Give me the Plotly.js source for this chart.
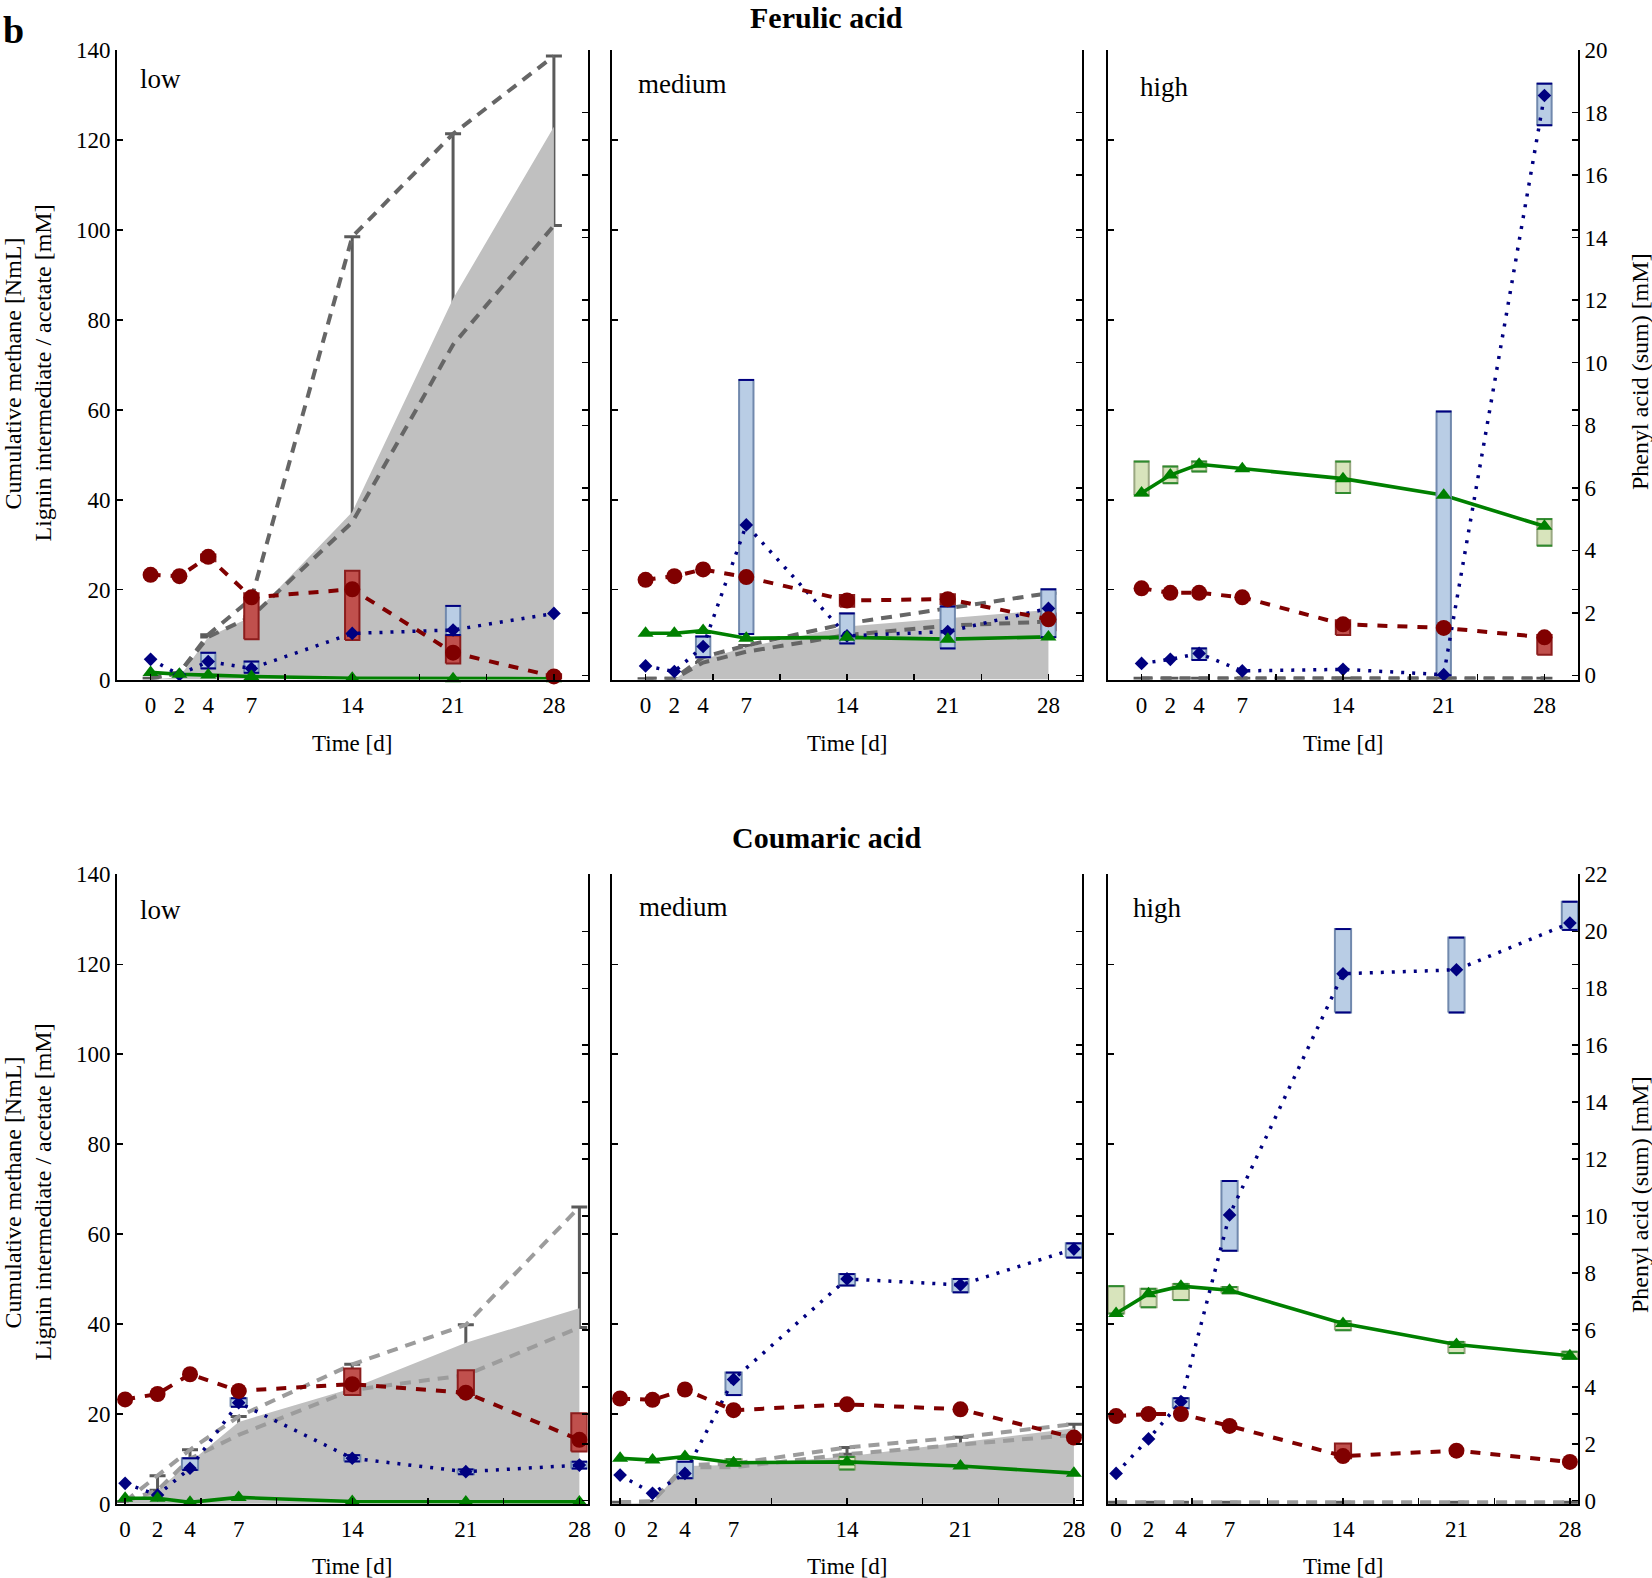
<!DOCTYPE html>
<html><head><meta charset="utf-8">
<script src="https://cdn.plot.ly/plotly-3.0.1.min.js"></script>
<style>html,body{margin:0;padding:0;background:#fff}#chart{width:1652px;height:1578px}</style>
</head><body><div id="chart"></div>
<script>
// ---------------- data ----------------
const days = [0, 2, 4, 7, 14, 21, 28];
const dayLabels = ['0', '2', '4', '7', '14', '21', '28'];
const levels = ['low', 'medium', 'high'];
const substrates = ['Ferulic acid', 'Coumaric acid'];
const noBox = [null, null, null, null, null, null, null];

// Ferulic acid - low
const faLowMethane    = [0, 0.5, 9.5, 14, 37.3, 84.7, 123];
const faLowMethaneMax = [0.3, 1.5, 10, 18, 98.5, 121.4, 138.7];
const faLowMethaneMin = [0.3, 1.5, 9.5, 14, 35, 74.5, 101];
const faLowAcetate    = [23.3, 23.0, 27.3, 18.3, 20.1, 6.0, 0.7];
const faLowAcetateMin = [null, null, 26.3, 9.0, 8.8, 3.6, 0.3];
const faLowAcetateMax = [null, null, 27.8, 19.2, 24.2, 9.8, 1.2];
const faLowLignin     = [1.6, 1.2, 1.0, 0.7, 0.3, 0.2, 0.2];
const faLowPhenyl     = [0.51, 0.02, 0.44, 0.22, 1.34, 1.45, 1.98];
const faLowPhenylMin  = [null, null, 0.22, 0.08, null, 1.29, null];
const faLowPhenylMax  = [null, null, 0.72, 0.44, null, 2.22, null];

// Ferulic acid - medium
const faMedMethane    = [0, 0, 4.5, 7.2, 11.8, 13.6, 15.5];
const faMedMethaneMax = [0.2, 0.2, 5.0, 7.6, 12.5, 15.9, 19.2];
const faMedMethaneMin = [0.2, 0.2, 3.8, 6.2, 9.9, 12.0, 12.9];
const faMedAcetate    = [22.2, 23.0, 24.5, 22.8, 17.6, 17.9, 13.4];
const faMedAcetateMin = [null, null, null, null, 16.2, 16.6, 11.0];
const faMedAcetateMax = [null, null, null, null, 18.8, 19.0, 14.7];
const faMedLignin     = [10.3, 10.3, 10.9, 9.2, 9.4, 9.0, 9.5];
const faMedPhenyl     = [0.30, 0.12, 0.92, 4.81, 1.26, 1.40, 2.14];
const faMedPhenylMin  = [null, null, 0.58, 1.32, 1.02, 0.86, 1.22];
const faMedPhenylMax  = [null, null, 1.24, 9.45, 1.98, 2.20, 2.75];

// Ferulic acid - high
const faHighMethane    = [0, 0, 0, 0, 0, 0, 0];
const faHighMethaneMax = [0.3, 0.3, 0.3, 0.3, 0.3, 0.3, 0.3];
const faHighMethaneMin = [0.1, 0.1, 0.1, 0.1, 0.1, 0.1, 0.1];
const faHighAcetate    = [20.3, 19.3, 19.3, 18.3, 12.3, 11.5, 9.4];
const faHighAcetateMin = [null, null, null, null, 9.9, null, 5.5];
const faHighAcetateMax = [null, null, null, null, 13.2, null, 9.9];
const faHighLignin     = [41.5, 45.5, 47.9, 46.9, 44.7, 41.0, 34.1];
const faHighLigninMin  = [41.0, 43.7, 46.3, null, 41.5, null, 29.8];
const faHighLigninMax  = [48.5, 47.4, 48.5, null, 48.5, null, 35.7];
const faHighPhenyl     = [0.38, 0.51, 0.70, 0.14, 0.19, 0.02, 18.55];
const faHighPhenylMin  = [null, null, 0.49, null, null, 0, 17.6];
const faHighPhenylMax  = [null, null, 0.86, null, null, 8.44, 18.93];

// Coumaric acid - low
const caLowMethane    = [0, 3, 9.2, 18.2, 25.7, 35.8, 43.5];
const caLowMethaneMax = [0.5, 6.2, 12, 19.4, 31, 39.8, 66];
const caLowMethaneMin = [0.5, 3, 10, 15.3, 25.3, 28.6, 39.2];
const caLowAcetate    = [23.2, 24.4, 28.8, 25.1, 26.6, 24.7, 14.2];
const caLowAcetateMin = [null, null, null, null, 24.2, 24.2, 11.6];
const caLowAcetateMax = [null, null, null, null, 30.1, 29.7, 20.1];
const caLowLignin     = [1.2, 1.2, 0.3, 1.4, 0.5, 0.4, 0.4];
const caLowPhenyl     = [0.61, 0.20, 1.14, 3.44, 1.49, 1.02, 1.25];
const caLowPhenylMin  = [null, null, 1.08, 3.30, 1.38, 0.93, 1.13];
const caLowPhenylMax  = [null, null, 1.49, 3.60, 1.60, 1.10, 1.37];

// Coumaric acid - medium
const caMedMethane    = [0, 0.3, 8.4, 8.6, 10.5, 13.6, 16.8];
const caMedMethaneMax = [0.3, 0.5, 8.6, 8.9, 12.5, 14.8, 17.7];
const caMedMethaneMin = [0.3, 0.5, 8.1, 8.1, 11.0, 13.1, 15.3];
const caMedAcetate    = [23.4, 23.1, 25.4, 20.8, 22.1, 21.0, 14.7];
const caMedLignin     = [10.1, 9.7, 10.5, 9.1, 9.3, 8.4, 6.8];
const caMedLigninMin  = [null, null, null, 8.4, 7.6, null, null];
const caMedLigninMax  = [null, null, null, 9.9, 10.4, null, null];
const caMedPhenyl     = [0.90, 0.26, 0.96, 4.26, 7.79, 7.58, 8.84];
const caMedPhenylMin  = [null, null, 0.79, 3.71, 7.56, 7.32, 8.54];
const caMedPhenylMax  = [null, null, 1.37, 4.50, 7.96, 7.79, 9.04];

// Coumaric acid - high
const caHighMethane    = [0, 0, 0, 0, 0, 0, 0];
const caHighMethaneMax = [0.3, 0.3, 0.3, 0.3, 0.3, 0.3, 0.3];
const caHighMethaneMin = [0.1, 0.1, 0.1, 0.1, 0.1, 0.1, 0.1];
const caHighAcetate    = [19.5, 19.96, 19.96, 17.3, 10.6, 11.8, 9.3];
const caHighAcetateMin = [null, null, null, null, 10.1, null, null];
const caHighAcetateMax = [null, null, null, null, 13.4, null, null];
const caHighLignin     = [42.3, 46.7, 48.4, 47.5, 40.1, 35.4, 32.9];
const caHighLigninMin  = [42.3, 43.7, 45.3, 46.8, 38.6, 33.5, 32.2];
const caHighLigninMax  = [48.4, 47.8, 48.9, 48.2, 40.6, 36.0, 33.8];
const caHighPhenyl     = [0.96, 2.17, 3.48, 10.04, 18.51, 18.65, 20.29];
const caHighPhenylMin  = [null, null, 3.25, 8.78, 17.15, 17.15, 20.05];
const caHighPhenylMax  = [null, null, 3.60, 11.23, 20.08, 19.78, 21.04];

// ---------------- panel table built from the arrays ----------------
const panels = [
  {row:0, col:0, methane:faLowMethane, mMax:faLowMethaneMax, mMin:faLowMethaneMin, ac:faLowAcetate, acMin:faLowAcetateMin, acMax:faLowAcetateMax, li:faLowLignin, liMin:noBox, liMax:noBox, ph:faLowPhenyl, phMin:faLowPhenylMin, phMax:faLowPhenylMax},
  {row:0, col:1, methane:faMedMethane, mMax:faMedMethaneMax, mMin:faMedMethaneMin, ac:faMedAcetate, acMin:faMedAcetateMin, acMax:faMedAcetateMax, li:faMedLignin, liMin:noBox, liMax:noBox, ph:faMedPhenyl, phMin:faMedPhenylMin, phMax:faMedPhenylMax},
  {row:0, col:2, methane:faHighMethane, mMax:faHighMethaneMax, mMin:faHighMethaneMin, ac:faHighAcetate, acMin:faHighAcetateMin, acMax:faHighAcetateMax, li:faHighLignin, liMin:faHighLigninMin, liMax:faHighLigninMax, ph:faHighPhenyl, phMin:faHighPhenylMin, phMax:faHighPhenylMax},
  {row:1, col:0, methane:caLowMethane, mMax:caLowMethaneMax, mMin:caLowMethaneMin, ac:caLowAcetate, acMin:caLowAcetateMin, acMax:caLowAcetateMax, li:caLowLignin, liMin:noBox, liMax:noBox, ph:caLowPhenyl, phMin:caLowPhenylMin, phMax:caLowPhenylMax},
  {row:1, col:1, methane:caMedMethane, mMax:caMedMethaneMax, mMin:caMedMethaneMin, ac:caMedAcetate, acMin:noBox, acMax:noBox, li:caMedLignin, liMin:caMedLigninMin, liMax:caMedLigninMax, ph:caMedPhenyl, phMin:caMedPhenylMin, phMax:caMedPhenylMax},
  {row:1, col:2, methane:caHighMethane, mMax:caHighMethaneMax, mMin:caHighMethaneMin, ac:caHighAcetate, acMin:caHighAcetateMin, acMax:caHighAcetateMax, li:caHighLignin, liMin:caHighLigninMin, liMax:caHighLigninMax, ph:caHighPhenyl, phMin:caHighPhenylMin, phMax:caHighPhenylMax}
];

// ---------------- layout geometry & styles ----------------
const W = 1652, H = 1578;
const FONT = '"Liberation Serif", "Times New Roman", Times, serif';
const colPx = [[117, 587.5], [612, 1082], [1108, 1578]];
const rowPx = [[679.6, 50.2], [1503.7, 874.4]];
const xRanges = [[-2.333, 30.333], [-0.5, 28.5]];
const rightRanges = [[-0.138, 20], [-0.105, 22]];
const leftRange = [0, 140];
const grayDash = ['#666666', '#9c9c9c'];
const px = v => v / W, py = v => 1 - v / H;

function boxShape(lo, hi, half) {
  const x = [], y = [];
  days.forEach((d, k) => {
    if (lo[k] == null || hi[k] == null) return;
    x.push(d - half, d + half, d + half, d - half, d - half, null);
    y.push(lo[k], lo[k], hi[k], hi[k], lo[k], null);
  });
  return {x, y};
}
function capPts(lo, hi) {
  const x = [], y = [];
  days.forEach((d, k) => {
    if (lo[k] == null || hi[k] == null) return;
    x.push(d, d); y.push(lo[k], hi[k]);
  });
  return {x, y};
}

const traces = [];
const layout = {
  width: W, height: H, margin: {l: 0, r: 0, t: 0, b: 0},
  paper_bgcolor: '#fff', plot_bgcolor: 'rgba(0,0,0,0)',
  showlegend: false, barmode: 'overlay', hovermode: false,
  font: {family: FONT, size: 23, color: '#000'},
  annotations: []
};
const yName = n => n === 1 ? 'y' : 'y' + n;
const yKey = n => n === 1 ? 'yaxis' : 'yaxis' + n;

panels.forEach((p, i) => {
  const r = p.row, c = p.col;
  const xid = i === 0 ? 'x' : 'x' + (i + 1);
  const xKey = i === 0 ? 'xaxis' : 'xaxis' + (i + 1);
  const nBase = 4 * i + 1;
  const yBase = yName(nBase), yBox = yName(nBase + 1), yBlue = yName(nBase + 2), yTop = yName(nBase + 3);
  const common = {xaxis: xid, showlegend: false, hoverinfo: 'skip'};

  // layer 1 (left axis): methane range bars, area, dashed range lines, boxes, lignin line
  traces.push(Object.assign({type: 'scatter', x: days, y: p.mMax, yaxis: yBase, mode: 'markers',
    marker: {size: 1, opacity: 0},
    error_y: {type: 'data', symmetric: false, array: days.map(() => 0),
      arrayminus: p.mMax.map((v, k) => v - p.mMin[k]), color: '#5a5a5a', thickness: 3, width: 8}}, common));
  traces.push(Object.assign({type: 'scatter', x: days, y: p.methane, yaxis: yBase, mode: 'lines',
    fill: 'tozeroy', fillcolor: '#c0c0c0', line: {width: 0, color: '#c0c0c0'}}, common));
  traces.push(Object.assign({type: 'scatter', x: days, y: p.mMax, yaxis: yBase, mode: 'lines', cliponaxis: false,
    line: {color: grayDash[r], width: 4, dash: '11px,8px'}}, common));
  traces.push(Object.assign({type: 'scatter', x: days, y: p.mMin, yaxis: yBase, mode: 'lines', cliponaxis: false,
    line: {color: grayDash[r], width: 4, dash: '11px,8px'}}, common));
  const rb = boxShape(p.acMin, p.acMax, 0.5);
  traces.push(Object.assign({type: 'scatter', x: rb.x, y: rb.y, yaxis: yBase, mode: 'lines', fill: 'toself',
    fillcolor: '#c0504d', line: {color: '#8c1d1d', width: 2}}, common));
  const gb = boxShape(p.liMin, p.liMax, 0.5);
  traces.push(Object.assign({type: 'scatter', x: gb.x, y: gb.y, yaxis: yBase, mode: 'lines', fill: 'toself',
    fillcolor: '#d8e4bc', line: {color: '#9aa882', width: 2}}, common));
  const gc = capPts(p.liMin, p.liMax);
  traces.push(Object.assign({type: 'scatter', x: gc.x, y: gc.y, yaxis: yBase, mode: 'markers', cliponaxis: false,
    marker: {symbol: 'line-ew', size: 11, line: {color: '#2e8b2e', width: 2}}}, common));
  traces.push(Object.assign({type: 'scatter', x: days, y: p.li, yaxis: yBase, mode: 'lines', cliponaxis: false,
    line: {color: '#008000', width: 3.6}}, common));

  // layer 2 (right axis): phenyl acid boxes
  const bb = boxShape(p.phMin, p.phMax, 0.5);
  traces.push(Object.assign({type: 'scatter', x: bb.x, y: bb.y, yaxis: yBox, mode: 'lines', fill: 'toself',
    fillcolor: '#b9cde5', line: {color: '#7189ad', width: 2}}, common));
  const bc = capPts(p.phMin, p.phMax);
  traces.push(Object.assign({type: 'scatter', x: bc.x, y: bc.y, yaxis: yBox, mode: 'markers', cliponaxis: false,
    marker: {symbol: 'line-ew', size: 11, line: {color: '#000080', width: 2}}}, common));

  // layer 3 (right axis): phenyl acid line
  traces.push(Object.assign({type: 'scatter', x: days, y: p.ph, yaxis: yBlue, mode: 'lines+markers', cliponaxis: false,
    line: {color: '#000080', width: 3.5, dash: '3px,8px'},
    marker: {symbol: 'diamond', size: 10.5, color: '#000080'}}, common));

  // layer 4 (left axis): lignin intermediate markers and acetate
  traces.push(Object.assign({type: 'scatter', x: days, y: p.li, yaxis: yTop, mode: 'markers', cliponaxis: false,
    marker: {symbol: 'triangle-up', size: 14, color: '#008000'}}, common));
  traces.push(Object.assign({type: 'scatter', x: days, y: p.ac, yaxis: yTop, mode: 'lines+markers', cliponaxis: false,
    line: {color: '#800000', width: 4, dash: '10px,10px'},
    marker: {symbol: 'circle', size: 16, color: '#800000'}}, common));

  // axes
  const tickfont = {family: FONT, size: 23, color: '#000'};
  const minorVals = [0, 1, 2, 3, 4, 5, 6].map(k => k * 28 / 6 + 0.003);
  layout[xKey] = {
    domain: [px(colPx[c][0]), px(colPx[c][1])], range: xRanges[r], anchor: yBase,
    tickmode: 'array', tickvals: days, ticktext: dayLabels, ticks: '', tickfont: tickfont, ticklabelstandoff: 4,
    showline: true, linewidth: 2, linecolor: '#000', showgrid: false, zeroline: false, fixedrange: true,
    minor: {tickmode: 'array', tickvals: minorVals, ticks: 'inside', ticklen: 6, tickwidth: 1.5, tickcolor: '#000', showgrid: false}
  };
  const dom = [py(rowPx[r][0]), py(rowPx[r][1])];
  layout[yKey(nBase)] = {
    domain: dom, range: leftRange, anchor: xid, tickmode: 'linear', tick0: 0, dtick: 20,
    ticks: 'inside', ticklen: 6, tickwidth: 1.5, tickcolor: '#000', showline: true, linewidth: 2, linecolor: '#000',
    mirror: 'ticks', showticklabels: c === 0, tickfont: tickfont, showgrid: false, zeroline: false, fixedrange: true
  };
  layout[yKey(nBase + 1)] = {
    overlaying: yBase, side: 'right', anchor: xid, range: rightRanges[r], tickmode: 'linear', tick0: 0, dtick: 2,
    ticks: 'inside', ticklen: 6, tickwidth: 1.5, tickcolor: '#000', showline: true, linewidth: 2, linecolor: '#000',
    showticklabels: c === 2, tickfont: tickfont, showgrid: false, zeroline: false, fixedrange: true
  };
  layout[yKey(nBase + 2)] = {overlaying: yBase, anchor: xid, range: rightRanges[r], visible: false, fixedrange: true};
  layout[yKey(nBase + 3)] = {overlaying: yBase, anchor: xid, range: leftRange, visible: false, fixedrange: true};

  // panel texts
  const lab = {0: [[137.8, 79.4], [137.8, 909.7]], 1: [[636.4, 83.7], [637, 907]], 2: [[1137.6, 87.3], [1131, 907.7]]}[c][r];
  layout.annotations.push({text: levels[c], xref: 'paper', yref: 'paper', x: px(lab[0]), y: py(lab[1]),
    xanchor: 'left', yanchor: 'middle', showarrow: false, font: {family: FONT, size: 27, color: '#000'}});
  layout.annotations.push({text: 'Time [d]', xref: 'paper', yref: 'paper',
    x: px((colPx[c][0] + colPx[c][1]) / 2), y: py(r === 0 ? 743 : 1566),
    xanchor: 'center', yanchor: 'middle', showarrow: false, font: {family: FONT, size: 23, color: '#000'}});
});

// figure-level texts
const ann = (text, x, y, size, extra) => layout.annotations.push(Object.assign({text, xref: 'paper', yref: 'paper',
  x: px(x), y: py(y), xanchor: 'center', yanchor: 'middle', showarrow: false,
  font: {family: FONT, size, color: '#000'}}, extra || {}));
ann('<b>b</b>', 13, 30, 38);
ann('<b>' + substrates[0] + '</b>', 826, 18, 30);
ann('<b>' + substrates[1] + '</b>', 826, 837, 30);
[373, 1192].forEach(yc => {
  ann('Cumulative methane [NmL]', 13.4, yc, 24, {textangle: -90});
  ann('Lignin intermediate / acetate [mM]', 42.5, yc, 24, {textangle: -90});
});
[372, 1195].forEach(yc => ann('Phenyl acid (sum) [mM]', 1640, yc, 24, {textangle: -90}));

Plotly.newPlot('chart', traces, layout, {staticPlot: true, displayModeBar: false});
</script>
</body></html>
